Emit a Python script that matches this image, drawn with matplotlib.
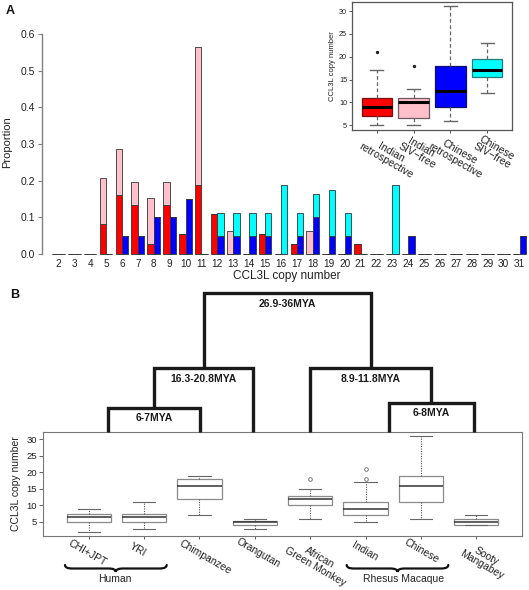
import matplotlib
matplotlib.use('Agg')
import matplotlib.pyplot as plt
from matplotlib.path import Path
from matplotlib.patches import PathPatch
import numpy as np

plt.rcParams['font.family'] = ['Liberation Sans', 'DejaVu Sans']

# ---------------- data ----------------
copy_numbers = list(range(2, 32))
# proportions per copy number 2..31
indian_retro = [0, 0, 0, 0.081, 0.162, 0.135, 0.027, 0.135, 0.054, 0.189, 0.108, 0, 0, 0.054, 0,
                0.027, 0, 0, 0, 0.027, 0, 0, 0, 0, 0, 0, 0, 0, 0, 0]
indian_sivfree = [0, 0, 0, 0.125, 0.125, 0.0625, 0.125, 0.0625, 0, 0.375, 0, 0.0625, 0, 0, 0,
                  0, 0.0625, 0, 0, 0, 0, 0, 0, 0, 0, 0, 0, 0, 0, 0]
chinese_retro = [0, 0, 0, 0, 0.05, 0.05, 0.10, 0.10, 0.15, 0, 0.05, 0.05, 0.05, 0.05, 0,
                 0.05, 0.10, 0.05, 0.05, 0, 0, 0, 0.05, 0, 0, 0, 0, 0, 0, 0.05]
chinese_sivfree = [0, 0, 0, 0, 0, 0, 0, 0, 0, 0, 0.0625, 0.0625, 0.0625, 0.0625, 0.1875,
                   0.0625, 0.0625, 0.125, 0.0625, 0, 0, 0.1875, 0, 0, 0, 0, 0, 0, 0, 0]

# inset boxplot (panel A)
inset_labels = ['Indian\nretrospective', 'Indian\nSIV\u2212free', 'Chinese\nretrospective', 'Chinese\nSIV\u2212free']
inset_colors = ['#ff0000', '#ffc0cb', '#0000ff', '#00ffff']
inset_edges = ['#7a1010', '#6a5a5e', '#10106a', '#2a7a7a']
inset_med = [9, 10, 12.5, 17]
inset_q1 = [7, 6.5, 9, 15.5]
inset_q3 = [11, 11, 18, 19.5]
inset_lo = [5, 5, 6, 12]
inset_hi = [17, 13, 31, 23]
inset_fliers = [[21], [18], [], []]

# panel B boxplot
species = ['CHI+JPT', 'YRI', 'Chimpanzee', 'Orangutan', 'African\nGreen Monkey', 'Indian', 'Chinese',
           'Sooty\nMangabey']
b_med = [6.5, 6.5, 16, 5, 12, 9, 16, 5]
b_q1 = [5, 5, 12, 4, 10, 7, 11, 4]
b_q3 = [7.5, 7.5, 18, 5.2, 13, 11, 19, 6]
b_lo = [2, 3, 7, 3, 6, 5, 6, 4]
b_hi = [9, 11, 19, 6, 15, 17, 31, 7]
b_fliers = [[], [], [], [], [18], [18, 21], [], []]

# dendrogram: leaf x (box positions scale) and merges
leaf_x = {'human': 1.35, 'chimp': 3.01, 'orang': 3.97, 'agm': 4.99, 'rhesus': 6.42, 'sooty': 7.96}
merges = [('L3', 'human', 'chimp', 24.6, '6-7MYA'),
          ('L2', 'L3', 'orang', 64.0, '16.3-20.8MYA'),
          ('R3', 'rhesus', 'sooty', 29.6, '6-8MYA'),
          ('R2', 'agm', 'R3', 64.0, '8.9-11.8MYA'),
          ('root', 'L2', 'R2', 139.0, '26.9-36MYA')]

# ---------------- figure ----------------
W, H = 529, 590
fig = plt.figure(figsize=(W / 100, H / 100), dpi=100)


def add_ax(l, t, r, b):
    return fig.add_axes([l / W, 1 - b / H, (r - l) / W, (b - t) / H])


# ---- Panel A main bars ----
ax = add_ax(42, 30, 526, 258)
x = np.array(copy_numbers)
bw = 0.4
ek = dict(edgecolor='#333333', linewidth=0.6)
ax.bar(x - 0.2, indian_retro, bw, color='#ff0000', **ek)
ax.bar(x - 0.2, indian_sivfree, bw, bottom=indian_retro, color='#ffc0cb', **ek)
ax.bar(x + 0.2, chinese_retro, bw, color='#0000ff', **ek)
ax.bar(x + 0.2, chinese_sivfree, bw, bottom=chinese_retro, color='#00ffff', **ek)
ax.set_xlim(0.975, 31.40)
ax.set_ylim(-0.0109, 0.6109)
for s in ['top', 'right', 'bottom']:
    ax.spines[s].set_visible(False)
ax.spines['left'].set_bounds(0, 0.6)
ax.spines['left'].set_color('#808080')
ax.spines['left'].set_linewidth(1.0)
ax.set_yticks([0, 0.1, 0.2, 0.3, 0.4, 0.5, 0.6])
ax.set_yticklabels(['0.0', '0.1', '0.2', '0.3', '0.4', '0.5', '0.6'])
ax.tick_params(axis='y', length=3.2, width=0.8, color='#808080', labelsize=7.5, pad=2, labelcolor='#222222')
ax.set_xticks(copy_numbers)
ax.set_xticklabels([str(c) for c in copy_numbers])
ax.tick_params(axis='x', length=0, pad=1, labelsize=7.2, labelcolor='#222222')
for b in ax.patches:
    b.set_clip_on(False)

# ---- Panel A inset boxplot ----
ax2 = add_ax(352.3, 1.7, 511.7, 130.1)
stats = []
for i in range(4):
    stats.append(dict(med=inset_med[i], q1=inset_q1[i], q3=inset_q3[i], whislo=inset_lo[i],
                      whishi=inset_hi[i], fliers=inset_fliers[i]))
bp = ax2.bxp(stats, positions=[1, 2, 3, 4], widths=0.82, patch_artist=True,
             boxprops=dict(linewidth=0.9),
             whiskerprops=dict(color='#666666', linestyle=(0, (3, 2)), linewidth=0.9),
             capprops=dict(color='#666666', linewidth=1.0),
             medianprops=dict(color='black', linewidth=2.2),
             flierprops=dict(marker='o', markersize=1.4, markerfacecolor='#222222', markeredgecolor='#222222'),
             capwidths=0.36)
for patch, fc, ec in zip(bp['boxes'], inset_colors, inset_edges):
    patch.set_facecolor(fc)
    patch.set_edgecolor(ec)
ax2.set_xlim(0.34, 4.66)
ax2.set_ylim(3.96, 32.04)
for s in ax2.spines.values():
    s.set_color('#555555')
    s.set_linewidth(0.9)
ax2.set_yticks([5, 10, 15, 20, 25, 30])
ax2.tick_params(axis='y', length=2.5, width=0.7, color='#555555', labelsize=5.2, pad=1.2, labelcolor='#222222')
ax2.set_xticks([1, 2, 3, 4])
ax2.set_xticklabels([])
ax2.tick_params(axis='x', length=2.5, width=0.7, color='#555555')
ax2.set_ylabel('CCL3L copy number', fontsize=5.5, labelpad=2.5, color='#222222')
inset_off = [(11.6, 26.6), (5.5, 21.9), (7.1, 26.4), (6.7, 21.9)]
for i, lab in enumerate(inset_labels):
    dx, dy = inset_off[i]
    ax2.annotate(lab, xy=(i + 1, 0), xycoords=('data', 'axes fraction'),
                 xytext=(dx * 0.72, -dy * 0.72), textcoords='offset points',
                 rotation=-30, rotation_mode='anchor', ha='center', va='center',
                 multialignment='center', fontsize=7.6, color='#222222',
                 annotation_clip=False, linespacing=0.95)

# ---- Panel B boxplot ----
ax3 = add_ax(43.3, 432.3, 521.7, 535.7)
bstats = []
for i in range(len(species)):
    bstats.append(dict(med=b_med[i], q1=b_q1[i], q3=b_q3[i], whislo=b_lo[i], whishi=b_hi[i],
                       fliers=b_fliers[i]))
bp3 = ax3.bxp(bstats, positions=list(range(1, 9)), widths=0.8, patch_artist=True,
              boxprops=dict(facecolor='white', edgecolor='#8a8a8a', linewidth=0.9),
              whiskerprops=dict(color='#555555', linestyle=(0, (1, 1.2)), linewidth=0.8),
              capprops=dict(color='#666666', linewidth=0.8),
              medianprops=dict(color='#333333', linewidth=1.1),
              flierprops=dict(marker='o', markersize=2.6, markerfacecolor='none', markeredgecolor='#666666',
                              markeredgewidth=0.6),
              capwidths=0.4)
ax3.set_xlim(0.18, 8.82)
ax3.set_ylim(0.84, 32.16)
for s in ax3.spines.values():
    s.set_color('#777777')
    s.set_linewidth(0.8)
ax3.set_yticks([5, 10, 15, 20, 25, 30])
ax3.tick_params(axis='y', length=3, width=0.7, color='#666666', labelsize=6.8, pad=1.5, labelcolor='#222222')
ax3.set_xticks(list(range(1, 9)))
ax3.set_xticklabels([])
ax3.tick_params(axis='x', length=2.5, width=0.7, color='#666666')
ax3.set_ylabel('CCL3L copy number', fontsize=7.5, labelpad=4, color='#222222')
b_off = [(-1.2, 16.8), (-6.6, 14.3), (6.3, 21.3), (3.5, 17.3), (7.3, 26.3), (-0.6, 15.3), (0.8, 14.8),
         (7.7, 24.8)]
for i, lab in enumerate(species):
    dx, dy = b_off[i]
    ax3.annotate(lab, xy=(i + 1, 0), xycoords=('data', 'axes fraction'),
                 xytext=(dx * 0.72, -dy * 0.72), textcoords='offset points',
                 rotation=-30, rotation_mode='anchor', ha='center', va='center',
                 multialignment='center', fontsize=7.5, color='#222222',
                 annotation_clip=False, linespacing=1.0)

# ---- Dendrogram ----
ax4 = add_ax(43.3, 285, 521.7, 432.3)
ax4.set_xlim(0.18, 8.82)
ax4.set_ylim(0, 147.3)
ax4.axis('off')
node_x = dict(leaf_x)
node_h = {k: 0.0 for k in leaf_x}
for name, a, b, h, lab in merges:
    xa, xb = node_x[a], node_x[b]
    ax4.plot([xa, xa, xb, xb], [node_h[a], h, h, node_h[b]], color='#1a1a1a', lw=2.4,
             solid_joinstyle='miter', solid_capstyle='butt', clip_on=False)
    node_x[name] = (xa + xb) / 2
    node_h[name] = h
    ax4.annotate(lab, xy=(node_x[name], h), xycoords='data', xytext=(0, -7.5), textcoords='offset points',
                 ha='center', va='center', fontsize=7.5, fontweight='bold', color='#1a1a1a',
                 annotation_clip=False)

# ---- Overlay for panel letters / braces ----
ov = fig.add_axes([0, 0, 1, 1])
ov.set_xlim(0, W)
ov.set_ylim(H, 0)
ov.axis('off')
ov.patch.set_alpha(0)
ov.text(10, 11, 'A', fontsize=9, fontweight='bold', ha='center', va='center', color='#111111')
ov.text(15, 295, 'B', fontsize=9, fontweight='bold', ha='center', va='center', color='#111111')
ov.text(287, 276, 'CCL3L copy number', fontsize=8.5, ha='center', va='center', color='#222222')
ov.text(7, 142, 'Proportion', fontsize=8, rotation=90, ha='center', va='center', color='#222222')


def brace(x0, x1, xm, y_end, y_line, y_tip, q=7):
    verts = [(x0, y_end), (x0, y_line), (x0 + q, y_line), (xm - q, y_line), (xm, y_line), (xm, y_tip),
             (xm, y_line), (xm + q, y_line), (x1 - q, y_line), (x1, y_line), (x1, y_end)]
    codes = [Path.MOVETO, Path.CURVE3, Path.CURVE3, Path.LINETO, Path.CURVE3, Path.CURVE3,
             Path.CURVE3, Path.CURVE3, Path.LINETO, Path.CURVE3, Path.CURVE3]
    ov.add_patch(PathPatch(Path(verts, codes), facecolor='none', edgecolor='#111111', lw=1.6,
                           capstyle='round'))


brace(65, 166.7, 115.8, 565, 568.5, 572)
brace(346.7, 448.3, 397.5, 565, 568.5, 572)
ov.text(115, 579.5, 'Human', fontsize=7.5, ha='center', va='center', color='#222222')
ov.text(404, 579.5, 'Rhesus Macaque', fontsize=7.5, ha='center', va='center', color='#222222')

fig.savefig('out.png', dpi=100)
